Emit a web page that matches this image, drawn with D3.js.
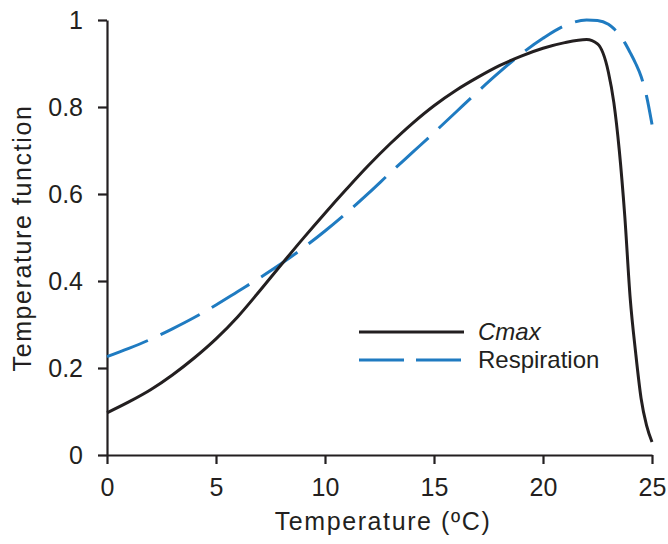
<!DOCTYPE html>
<html>
<head>
<meta charset="utf-8">
<script src="https://d3js.org/d3.v7.min.js"></script>
<style>
  body { margin: 0; background: #fff; }
  text { font-family: "Liberation Sans", Arial, sans-serif; fill: #231f20; }
</style>
</head>
<body>
<div id="chart"></div>
<script>
// data
var temps = [0, 1, 2, 3, 4, 5, 6, 7, 8, 9, 10, 11, 12, 13, 14, 15, 16, 17, 18, 19, 20, 21, 22, 22.5, 23, 23.25, 23.5, 23.75, 24, 24.25, 24.5, 24.75, 25];
var cmax = [0.097, 0.122, 0.15, 0.184, 0.223, 0.267, 0.318, 0.377, 0.438, 0.498, 0.556, 0.612, 0.666, 0.716, 0.762, 0.803, 0.838, 0.868, 0.895, 0.917, 0.935, 0.948, 0.955, 0.945, 0.88, 0.81, 0.7, 0.55, 0.36, 0.235, 0.13, 0.068, 0.03];
var resp = [0.226, 0.245, 0.266, 0.29, 0.316, 0.345, 0.376, 0.407, 0.44, 0.476, 0.515, 0.557, 0.602, 0.649, 0.695, 0.741, 0.788, 0.835, 0.88, 0.922, 0.958, 0.987, 1.0, 0.999, 0.99, 0.98, 0.966, 0.948, 0.925, 0.9, 0.87, 0.825, 0.76];
var xTicks = [0, 5, 10, 15, 20, 25];
var yTicks = [0, 0.2, 0.4, 0.6, 0.8, 1];
var seriesNames = ["Cmax", "Respiration"];

var width = 668,
  height = 544,
  margin = {top: 20, right: 16, bottom: 89, left: 107};

var svg = d3.select("#chart").append("svg")
  .attr("width", width)
  .attr("height", height);

var x = d3.scaleLinear().domain([0, 25]).range([margin.left, width - margin.right]);
var y = d3.scaleLinear().domain([0, 1]).range([height - margin.bottom, margin.top]);

//Axes
var xAxis = svg.append("g")
  .attr("transform", "translate(0," + y(0) + ")")
  .call(d3.axisBottom(x).tickValues(xTicks).tickSize(9).tickPadding(14).tickSizeOuter(0));

var yAxis = svg.append("g")
  .attr("transform", "translate(" + x(0) + ",0)")
  .call(d3.axisLeft(y).tickValues(yTicks).tickSize(9).tickPadding(15).tickSizeOuter(0)
    .tickFormat(function(d) { return d3.format("")(+d.toFixed(1)); }));

[xAxis, yAxis].forEach(function(g) {
  g.selectAll("path, line").attr("stroke", "#231f20").attr("stroke-width", 2.2);
  g.selectAll("text").attr("font-size", 25).attr("fill", "#231f20")
    .style("font-family", "'Liberation Sans', Arial, sans-serif");
});

//Axis titles
svg.append("text")
  .attr("x", 383)
  .attr("y", 530)
  .attr("text-anchor", "middle")
  .attr("font-size", 25)
  .attr("letter-spacing", 1.6)
  .text("Temperature (ºC)");

svg.append("text")
  .attr("transform", "translate(31,238) rotate(-90)")
  .attr("text-anchor", "middle")
  .attr("font-size", 25)
  .attr("letter-spacing", 1.6)
  .text("Temperature function");

//Lines
var line = function(vals) {
  return d3.line()
    .x(function(d, i) { return x(temps[i]); })
    .y(function(d) { return y(d); })
    .curve(d3.curveMonotoneX)(vals);
};

svg.append("path")
  .attr("d", line(resp))
  .attr("fill", "none")
  .attr("stroke", "#1f7bc1")
  .attr("stroke-width", 3)
  .attr("stroke-dasharray", "44,14");

svg.append("path")
  .attr("d", line(cmax))
  .attr("fill", "none")
  .attr("stroke", "#231f20")
  .attr("stroke-width", 3);

//Legend
var legend = svg.append("g").attr("transform", "translate(359,332)");
legend.append("line").attr("x1", 0).attr("x2", 105).attr("y1", 0).attr("y2", 0)
  .attr("stroke", "#231f20").attr("stroke-width", 3);
legend.append("line").attr("x1", 0).attr("x2", 105).attr("y1", 28).attr("y2", 28)
  .attr("stroke", "#1f7bc1").attr("stroke-width", 3).attr("stroke-dasharray", "45,12");
legend.append("text").attr("x", 119).attr("y", 8).attr("font-size", 24)
  .attr("font-style", "italic").text(seriesNames[0]);
legend.append("text").attr("x", 119).attr("y", 36).attr("font-size", 24)
  .text(seriesNames[1]);
</script>
</body>
</html>
